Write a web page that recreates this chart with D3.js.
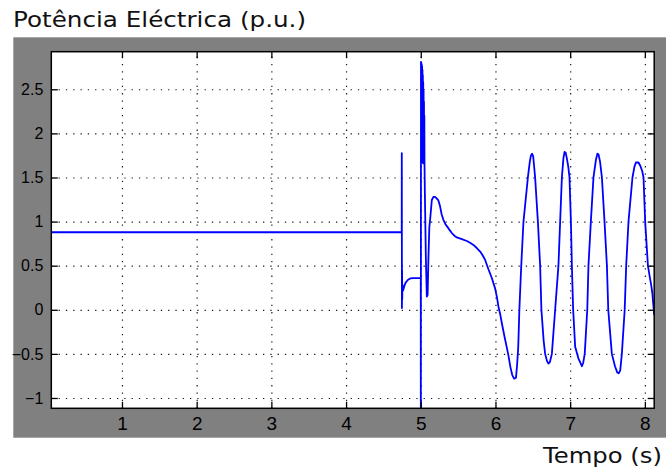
<!DOCTYPE html>
<html>
<head>
<meta charset="utf-8">
<script src="https://cdn.jsdelivr.net/npm/d3@7"></script>
<style>
  html, body { margin: 0; padding: 0; background: #ffffff; }
  svg { display: block; }
</style>
</head>
<body>
<div id="chart"></div>
<script>
// ---------- data ----------
const titleText = "Potência Eléctrica (p.u.)";
const xLabelText = "Tempo (s)";
const xTicks = [1, 2, 3, 4, 5, 6, 7, 8];
const yTicks = [-1, -0.5, 0, 0.5, 1, 1.5, 2, 2.5];
const xDomain = [0.054, 8.125];
const yDomain = [-1.117, 2.926];

const timeValues = [
  0.054, 4.745, 4.746, 4.748, 4.750, 4.752, 4.755, 4.765, 4.780, 4.800,
  4.830, 4.860, 4.900, 5.000, 5.001,
  5.0030, 5.0055, 5.0080, 5.0105, 5.0130, 5.0155, 5.0180, 5.0205, 5.0230, 5.0255,
  5.0280, 5.0305, 5.0330, 5.0355, 5.0380, 5.0405, 5.0430, 5.0455, 5.0480,
  5.050, 5.055, 5.068, 5.081, 5.092, 5.103, 5.115, 5.125, 5.148, 5.170,
  5.192, 5.215, 5.236, 5.259, 5.280, 5.303, 5.330, 5.357, 5.390, 5.416,
  5.450, 5.483, 5.550, 5.617, 5.660, 5.705, 5.750, 5.795, 5.830, 5.862,
  5.906, 5.951, 5.996, 6.020, 6.040, 6.063, 6.085, 6.120, 6.150, 6.174,
  6.200, 6.225, 6.250, 6.275, 6.290, 6.305, 6.320, 6.345, 6.375, 6.434,
  6.460, 6.475, 6.490, 6.505, 6.515, 6.531, 6.568, 6.598, 6.615, 6.645,
  6.665, 6.690, 6.710, 6.730, 6.755, 6.799, 6.843, 6.866, 6.889, 6.910,
  6.925, 6.940, 6.955, 6.975, 6.991, 7.010, 7.023, 7.040, 7.067, 7.110,
  7.157, 7.175, 7.195, 7.229, 7.245, 7.277, 7.312, 7.345, 7.365, 7.380,
  7.400, 7.425, 7.460, 7.492, 7.510, 7.558, 7.600, 7.630, 7.650, 7.670,
  7.692, 7.730, 7.750, 7.781, 7.834, 7.860, 7.880, 7.915, 7.940, 7.965,
  7.982, 8.004, 8.041, 8.070, 8.085, 8.100, 8.125
];
const powerValues = [
  0.879, 0.879, 1.775, 0.020, 0.450, 0.120, 0.280, 0.220, 0.270, 0.310,
  0.340, 0.355, 0.360, 0.360, -1.500,
  2.810, 1.850, 2.800, 1.750, 2.780, 1.700, 2.760, 1.680, 2.720, 1.670,
  2.660, 1.660, 2.580, 1.660, 2.480, 1.660, 2.360, 1.660, 2.200,
  1.660, 1.320, 0.600, 0.150, 0.170, 0.600, 0.940, 1.020, 1.245, 1.280,
  1.280, 1.260, 1.240, 1.170, 1.080, 1.020, 0.970, 0.940, 0.900, 0.870,
  0.840, 0.820, 0.800, 0.780, 0.760, 0.735, 0.700, 0.660, 0.615, 0.565,
  0.460, 0.360, 0.240, 0.140, 0.035, -0.050, -0.150, -0.300, -0.420, -0.520,
  -0.650, -0.740, -0.780, -0.770, -0.620, -0.420, 0.000, 0.500, 1.000, 1.500,
  1.680, 1.750, 1.770, 1.740, 1.650, 1.500, 1.000, 0.500, 0.000, -0.350,
  -0.500, -0.580, -0.610, -0.590, -0.500, 0.000, 0.500, 1.000, 1.500, 1.720,
  1.790, 1.780, 1.720, 1.620, 1.500, 1.000, 0.500, 0.000, -0.420, -0.550,
  -0.640, -0.600, -0.500, 0.000, 0.500, 1.000, 1.500, 1.700, 1.770, 1.760,
  1.680, 1.500, 1.000, 0.500, 0.000, -0.500, -0.640, -0.710, -0.720, -0.690,
  -0.500, 0.000, 0.500, 1.000, 1.500, 1.620, 1.670, 1.670, 1.630, 1.570,
  1.500, 1.000, 0.500, 0.350, 0.280, 0.190, -0.060
];

// ---------- layout ----------
const W = 666, H = 472;
const plot = { left: 51.3, right: 654.2, top: 51.7, bottom: 408.3 };
const frame = { left: 13.3, right: 666, top: 37.3, bottom: 437.7 };

const svg = d3.select("#chart").append("svg")
  .attr("width", W).attr("height", H);

// gray frame
svg.append("rect")
  .attr("x", frame.left).attr("y", frame.top)
  .attr("width", frame.right - frame.left).attr("height", frame.bottom - frame.top)
  .attr("fill", "#808080");

// plot background
svg.append("rect")
  .attr("x", plot.left).attr("y", plot.top)
  .attr("width", plot.right - plot.left).attr("height", plot.bottom - plot.top)
  .attr("fill", "#ffffff");

const x = d3.scaleLinear().domain(xDomain).range([plot.left, plot.right]);
const y = d3.scaleLinear().domain(yDomain).range([plot.bottom, plot.top]);

// grid
const gridX = svg.append("g")
  .attr("transform", `translate(0,${plot.bottom})`)
  .call(d3.axisBottom(x).tickValues(xTicks).tickSize(-(plot.bottom - plot.top)).tickFormat(""));
const gridY = svg.append("g")
  .attr("transform", `translate(${plot.left},0)`)
  .call(d3.axisLeft(y).tickValues(yTicks).tickSize(-(plot.right - plot.left)).tickFormat(""));
[gridX, gridY].forEach(g => {
  g.select(".domain").remove();
  g.selectAll(".tick line")
    .attr("stroke", "#1a1a1a")
    .attr("stroke-width", 1.2)
    .attr("stroke-dasharray", "1.3,6");
});

// clip
svg.append("clipPath").attr("id", "clip")
  .append("rect")
  .attr("x", plot.left).attr("y", plot.top)
  .attr("width", plot.right - plot.left).attr("height", plot.bottom - plot.top);

const data = timeValues.map((t, i) => [t, powerValues[i]]);
svg.append("path")
  .datum(data)
  .attr("clip-path", "url(#clip)")
  .attr("fill", "none")
  .attr("stroke", "#0000ff")
  .attr("stroke-width", 1.8)
  .attr("stroke-linejoin", "round")
  .attr("d", d3.line().x(d => x(d[0])).y(d => y(d[1])));

// axes with inward ticks
const tickLen = 6.5;
const axB = svg.append("g").attr("transform", `translate(0,${plot.bottom})`)
  .call(d3.axisBottom(x).tickValues(xTicks).tickSize(-tickLen).tickPadding(8).tickFormat(d3.format("d")));
const axT = svg.append("g").attr("transform", `translate(0,${plot.top})`)
  .call(d3.axisTop(x).tickValues(xTicks).tickSize(-tickLen).tickFormat(""));
const axL = svg.append("g").attr("transform", `translate(${plot.left},0)`)
  .call(d3.axisLeft(y).tickValues(yTicks).tickSize(-tickLen).tickPadding(8).tickFormat(d => d3.format("")(d)));
const axR = svg.append("g").attr("transform", `translate(${plot.right},0)`)
  .call(d3.axisRight(y).tickValues(yTicks).tickSize(-tickLen).tickFormat(""));
[axB, axT, axL, axR].forEach(g => {
  g.select(".domain").remove();
  g.selectAll(".tick line").attr("stroke", "#000").attr("stroke-width", 1.3);
});
axB.selectAll(".tick text")
  .attr("font-family", "'Liberation Sans', Arial, sans-serif")
  .attr("font-size", 19).attr("fill", "#000");
axL.selectAll(".tick text")
  .attr("font-family", "'Liberation Sans', Arial, sans-serif")
  .attr("font-size", 16).attr("fill", "#000");

// box
svg.append("rect")
  .attr("x", plot.left).attr("y", plot.top)
  .attr("width", plot.right - plot.left).attr("height", plot.bottom - plot.top)
  .attr("fill", "none").attr("stroke", "#000").attr("stroke-width", 1.5);

// title & x label
svg.append("text")
  .attr("x", 13).attr("y", 26.7)
  .attr("font-family", "'DejaVu Sans', Verdana, sans-serif")
  .attr("font-size", 21)
  .attr("fill", "#111")
  .attr("textLength", 293).attr("lengthAdjust", "spacingAndGlyphs")
  .text(titleText);

svg.append("text")
  .attr("x", 543).attr("y", 463)
  .attr("font-family", "'DejaVu Sans', Verdana, sans-serif")
  .attr("font-size", 21)
  .attr("fill", "#111")
  .attr("textLength", 119).attr("lengthAdjust", "spacingAndGlyphs")
  .text(xLabelText);
</script>
</body>
</html>
